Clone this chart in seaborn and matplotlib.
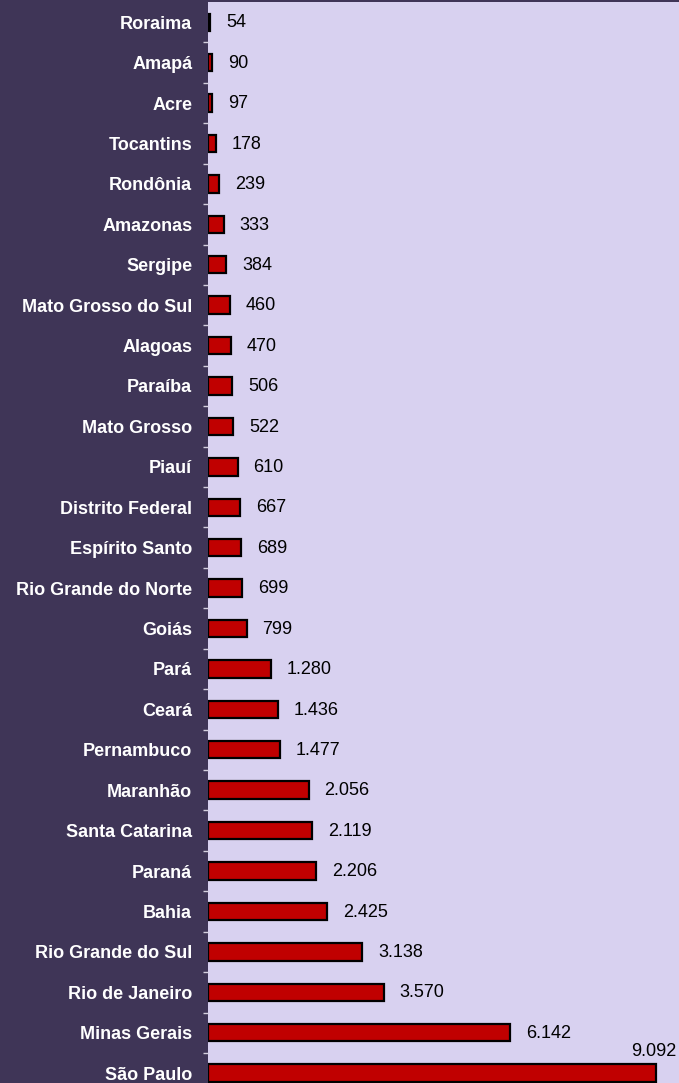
import matplotlib
matplotlib.use("Agg")
import matplotlib.pyplot as plt
import seaborn as sns
import pandas as pd

# Estados e valores
estados = [
    "Roraima", "Amapá", "Acre", "Tocantins", "Rondônia", "Amazonas", "Sergipe",
    "Mato Grosso do Sul", "Alagoas", "Paraíba", "Mato Grosso", "Piauí",
    "Distrito Federal", "Espírito Santo", "Rio Grande do Norte", "Goiás", "Pará",
    "Ceará", "Pernambuco", "Maranhão", "Santa Catarina", "Paraná", "Bahia",
    "Rio Grande do Sul", "Rio de Janeiro", "Minas Gerais", "São Paulo",
]
valores = [
    54, 90, 97, 178, 239, 333, 384, 460, 470, 506, 522, 610, 667, 689, 699, 799,
    1280, 1436, 1477, 2056, 2119, 2206, 2425, 3138, 3570, 6142, 9092,
]

df = pd.DataFrame({"estado": estados, "valor": valores})

sns.set_style("white")
plt.rcParams["font.family"] = ["Liberation Sans", "DejaVu Sans"]

BG_DARK = "#3F3557"
BG_PLOT = "#D8D1F0"
BAR = "#C00000"

fig = plt.figure(figsize=(6.79, 10.83), dpi=100, facecolor=BG_DARK)
ax = fig.add_axes([207.5 / 679, 0.0, 1 - 207.5 / 679, 1 - 2 / 1083])
ax.set_facecolor(BG_PLOT)

sns.barplot(data=df, y="estado", x="valor", orient="h", color=BAR,
            edgecolor="black", linewidth=1.6, width=0.43, saturation=1,
            ax=ax)

def fmt(v):
    return f"{v:,}".replace(",", ".")

n = len(estados)
for i, v in enumerate(valores):
    if i == n - 1:
        ax.annotate(fmt(v), xy=(v, i), xytext=(14.4, 15.8),
                    textcoords="offset points", ha="right", va="center",
                    fontsize=13, color="black")
    else:
        ax.annotate(fmt(v), xy=(v, i), xytext=(11.3, -0.5),
                    textcoords="offset points", ha="left", va="center",
                    fontsize=13, color="black")

ax.set_xlim(0, 9560)
ax.set_ylim(-0.5 + 1081 / 40.42, -0.5)
ax.set_xlabel("")
ax.set_ylabel("")
ax.set_xticks([])

for s in ax.spines.values():
    s.set_visible(False)

ax.tick_params(axis="y", which="major", left=False, length=0, pad=11,
               labelsize=13, labelcolor="white")
for lab in ax.get_yticklabels():
    lab.set_fontweight("bold")

# short separators between categories
ax.set_yticks([k + 0.5 for k in range(n - 1)], minor=True)
ax.tick_params(axis="y", which="minor", left=True, length=3.5, width=1,
               color="#D4D0DE", direction="out")

fig.savefig("out.png", dpi=100, facecolor=BG_DARK)
